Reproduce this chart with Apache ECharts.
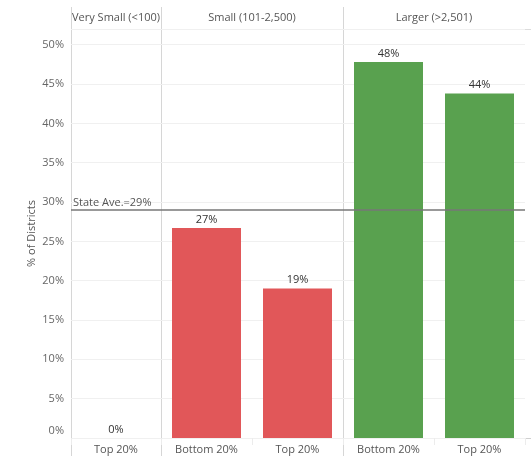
<!DOCTYPE html>
<html>
<head>
<meta charset="utf-8">
<script src="https://cdn.jsdelivr.net/npm/echarts@6/dist/echarts.min.js"></script>
<style>
  html, body { margin: 0; padding: 0; background: #fff; }
  #chart { width: 531px; height: 456px; }
</style>
</head>
<body>
<div id="chart"></div>
<script>
// data
var panels = ["Very Small (<100)", "Small (101-2,500)", "Larger (>2,501)"];
var panelCategories = [["Top 20%"], ["Bottom 20%", "Top 20%"], ["Bottom 20%", "Top 20%"]];
var panelValues = [[0], [26.7, 19.0], [47.8, 43.8]];
var stateAverage = 29;
var yTicks = [0, 5, 10, 15, 20, 25, 30, 35, 40, 45, 50];

// layout
var FONT = "Open Sans";
var FS = 11;
var panelLeft = [71, 161, 343];
var panelWidth = [90, 182, 182];
var panelColor = ["#4e79a7", "#e15759", "#59a14f"];
var gridTop = 29, gridBottom = 18;

var chart = echarts.init(document.getElementById("chart"));

var grids = [], xAxes = [], yAxes = [], series = [];
panels.forEach(function (name, i) {
  grids.push({ left: panelLeft[i], top: gridTop, width: panelWidth[i], bottom: gridBottom });
  // bottom category axis
  xAxes.push({
    type: "category",
    gridIndex: i,
    data: panelCategories[i],
    axisLine: { show: false },
    axisTick: { show: true, length: 7, lineStyle: { color: "#ececec" } },
    axisLabel: { color: "#555", fontSize: FS, fontFamily: FONT, margin: 6 }
  });
  // panel header
  xAxes.push({
    type: "category",
    gridIndex: i,
    position: "top",
    data: [name],
    axisLine: { show: false },
    axisTick: { show: false },
    axisLabel: { color: "#555", fontSize: FS, fontFamily: FONT, margin: 6 }
  });
  yAxes.push({
    type: "value",
    gridIndex: i,
    min: 0,
    max: 52,
    interval: 5,
    name: i === 0 ? "% of Districts" : "",
    nameLocation: "middle",
    nameGap: 34,
    nameTextStyle: { color: "#555", fontSize: FS, fontFamily: FONT },
    axisLine: { show: false },
    axisTick: { show: false },
    splitLine: { lineStyle: { color: "#f0f0f0" } },
    axisLabel: {
      show: i === 0,
      color: "#666",
      fontSize: FS,
      fontFamily: FONT,
      margin: 7,
      formatter: function (v) {
        if (yTicks.indexOf(v) < 0) return "";
        return v === 0 ? "{z|0%}" : v + "%";
      },
      rich: { z: { color: "#666", fontSize: FS, fontFamily: FONT, padding: [0, 0, 14, 0] } }
    }
  });
  series.push({
    type: "bar",
    xAxisIndex: i * 2,
    yAxisIndex: i,
    data: panelValues[i],
    barWidth: 69,
    itemStyle: { color: panelColor[i] },
    label: {
      show: true,
      position: "top",
      distance: 3,
      color: "#333",
      fontSize: FS,
      fontFamily: FONT,
      formatter: function (p) { return Math.round(p.value) + "%"; }
    },
    markLine: {
      silent: true,
      symbol: "none",
      lineStyle: { color: "#777", width: 1.5, type: "solid" },
      label: {
        show: i === 0,
        position: "insideStartTop",
        distance: [2, 2],
        color: "#555",
        fontSize: FS,
        fontFamily: FONT,
        formatter: "State Ave.=" + stateAverage + "%"
      },
      data: [{ yAxis: stateAverage }]
    }
  });
});

// panel frame lines (Tableau style)
var frame = [];
panelLeft.forEach(function (x) {
  frame.push({ type: "line", shape: { x1: x + 0.5, y1: 7, x2: x + 0.5, y2: 456 }, style: { stroke: "#d6d6d6", lineWidth: 1 } });
});
frame.push({ type: "line", shape: { x1: 71, y1: gridTop + 0.5, x2: 531, y2: gridTop + 0.5 }, style: { stroke: "#dcdcdc", lineWidth: 1 } });
frame.push({ type: "line", shape: { x1: 71, y1: 456 - gridBottom + 0.5, x2: 531, y2: 456 - gridBottom + 0.5 }, style: { stroke: "#cfcfcf", lineWidth: 1 } });

chart.setOption({
  animation: false,
  grid: grids,
  xAxis: xAxes,
  yAxis: yAxes,
  series: series,
  graphic: frame
});
</script>
</body>
</html>
